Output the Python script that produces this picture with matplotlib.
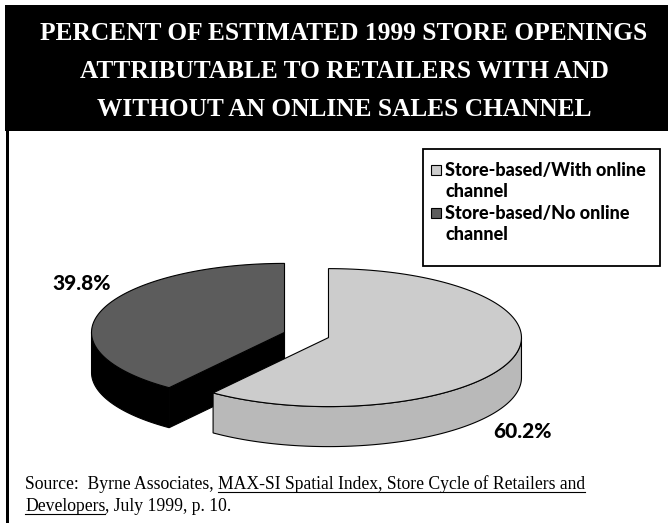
import matplotlib
matplotlib.use("Agg")
import matplotlib.pyplot as plt
import numpy as np
from matplotlib.patches import Polygon, Rectangle

# ---------------- data ----------------
title_lines = ["PERCENT OF ESTIMATED 1999 STORE OPENINGS",
               "ATTRIBUTABLE TO RETAILERS WITH AND",
               "WITHOUT AN ONLINE SALES CHANNEL"]
categories = ["Store-based/With online\nchannel", "Store-based/No online\nchannel"]
values = [60.2, 39.8]
value_labels = ["60.2%", "39.8%"]
top_colors = ["#CCCCCC", "#5C5C5C"]
side_colors = ["#B9B9B9", "#000000"]
source_line1 = [("Source:  Byrne Associates,", False),
                ("MAX-SI Spatial Index, Store Cycle of Retailers and", True)]
source_line2 = [("Developers", True), (", July 1999, p. 10.", False)]

# ---------------- layout ----------------
W, H = 668, 523
fig = plt.figure(figsize=(W / 100, H / 100), dpi=100)
ax = fig.add_axes([0, 0, 1, 1])
ax.set_xlim(0, W)
ax.set_ylim(H, 0)
ax.axis("off")

serif = ["Liberation Serif", "DejaVu Serif"]
narrow = ["Lato", "DejaVu Sans"]

# title band
ax.add_patch(Rectangle((5, 5), W - 5, 126, facecolor="black", edgecolor="none", zorder=1))
ax.add_patch(Rectangle((6, 131), 3, H - 131, facecolor="black", edgecolor="none", zorder=1))
for i, line in enumerate(title_lines):
    ax.text(W / 2 + 10, 34 + i * 37.5, line, color="white", fontsize=18.3, fontweight="bold",
            family=serif, ha="center", va="center", zorder=2)

# ---------------- 3D pie ----------------
cx, cy = 306.5, 335.0
a, b = 193.0, 69.0
depth = 40.0
explode = 0.12

total = sum(values)
slices = []
start = 90.0
for v in values:
    sweep = 360.0 * v / total
    t_hi = start
    t_lo = start - sweep
    mid = np.radians((t_hi + t_lo) / 2)
    ox = cx + explode * a * np.cos(mid)
    oy = cy - explode * b * np.sin(mid)
    slices.append((t_lo, t_hi, ox, oy))
    start = t_lo


def pt(x0, y0, t, dz=0.0):
    r = np.radians(t)
    return (x0 + a * np.cos(r), y0 - b * np.sin(r) + dz)


def arc(x0, y0, t1, t2, dz=0.0, n=120):
    ts = np.linspace(t1, t2, n)
    return [pt(x0, y0, t, dz) for t in ts]


order = sorted(range(len(slices)), key=lambda i: slices[i][3])
for i in order:
    t_lo, t_hi, ox, oy = slices[i]
    # cut faces
    for t_edge, normal in ((t_lo, t_lo - 90), (t_hi, t_hi + 90)):
        if np.sin(np.radians(normal)) < -1e-6:
            p = pt(ox, oy, t_edge)
            poly = [(ox, oy), p, (p[0], p[1] + depth), (ox, oy + depth)]
            ax.add_patch(Polygon(poly, closed=True, facecolor=side_colors[i],
                                 edgecolor="black", lw=0.8, zorder=3))
    # outer wall (front half only)
    for lo, hi in ((-180, 0), (180, 360), (-540, -360)):
        s, e = max(t_lo, lo), min(t_hi, hi)
        if e > s:
            poly = arc(ox, oy, s, e) + arc(ox, oy, e, s, depth)
            ax.add_patch(Polygon(poly, closed=True, facecolor=side_colors[i],
                                 edgecolor="black", lw=0.8, zorder=3))
    # top face
    poly = [(ox, oy)] + arc(ox, oy, t_lo, t_hi)
    ax.add_patch(Polygon(poly, closed=True, facecolor=top_colors[i],
                         edgecolor="black", lw=0.8, zorder=3))

label_pos = [(522, 432), (82, 283)]
for lab, (lx, ly) in zip(value_labels, label_pos):
    ax.text(lx, ly, lab, fontsize=15, fontweight="black", family=narrow,
            ha="center", va="center", zorder=4)

# ---------------- legend ----------------
ax.add_patch(Rectangle((423, 149), 237, 117, facecolor="white", edgecolor="black",
                       lw=1.3, zorder=4))
baselines = [[176, 197], [219, 240]]
for cat, col, bl in zip(categories, top_colors, baselines):
    ax.add_patch(Rectangle((431, bl[0] - 11), 10, 10, facecolor=col, edgecolor="black",
                           lw=0.8, zorder=5))
    for line, y in zip(cat.split("\n"), bl):
        ax.text(445, y, line, fontsize=13, fontweight="black", family=narrow,
                ha="left", va="baseline", zorder=5)

# ---------------- source ----------------
fig.canvas.draw()
renderer = fig.canvas.get_renderer()
src_size = 12.7


def text_width(s):
    t = ax.text(0, 0, s, fontsize=src_size, family=serif)
    w = t.get_window_extent(renderer).width
    t.remove()
    return w


space = text_width("x x") - text_width("xx")


def draw_line(x0, y, segments):
    x = x0
    for k, (s, ul) in enumerate(segments):
        if k > 0 and not s.startswith(","):
            x += space
        t = ax.text(x, y, s, fontsize=src_size, family=serif, ha="left", va="baseline",
                    zorder=5)
        w = t.get_window_extent(renderer).width
        if ul:
            ax.plot([x, x + w], [y + 2.5, y + 2.5], color="black", lw=0.8, zorder=5)
        x += w


draw_line(25, 489, source_line1)
draw_line(25, 511, source_line2)

fig.savefig("out.png", dpi=100)
